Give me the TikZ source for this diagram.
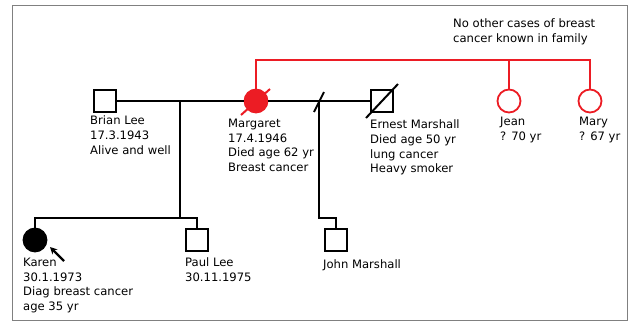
\documentclass[tikz,border=0pt]{standalone}
\usepackage{fontspec}
\setmainfont{DejaVu Sans}
\usetikzlibrary{arrows.meta}
\definecolor{pedred}{RGB}{236,28,36}
\begin{document}
\begin{tikzpicture}[x=1pt,y=-1pt,
  male/.style={draw,line width=1.8pt,minimum size=22pt,inner sep=0pt,fill=white},
  female/.style={draw,circle,line width=1.8pt,minimum size=23pt,inner sep=0pt,fill=white},
  txt/.style={anchor=north west,align=left,inner sep=0pt,font=\fontsize{11.6}{14.6}\selectfont,execute at begin node=\strut},
  link/.style={line width=2pt}]
  \useasboundingbox (0,0) rectangle (633,325);
  \draw[gray,line width=0.8pt] (12,5) rectangle (627,320);

  \node[male] (brian) at (105,101){};
  \node[female,draw=pedred,fill=pedred] (margaret) at (256,101){};
  \node[male] (ernest) at (382,101){};
  \node[female,draw=pedred] (jean) at (509,101){};
  \node[female,draw=pedred] (mary) at (590,101){};

  \node[female,fill=black] (karen) at (35,240){};
  \node[male] (paul) at (197,240){};
  \node[male] (john) at (336,240){};

  \coordinate (m1) at (180,101);
  \coordinate (s1) at (180,218);
  \coordinate (m2) at (319,101);
  \coordinate (s2) at (319,218);
  \coordinate (top) at (256,60);

  % marriages and children
  \draw[link](brian)--(margaret)--(ernest);
  \draw[link](m1)--(s1);
  \draw[link](karen)|-(s1)-|(paul);
  \draw[link](m2)--(s2)-|(john);
  \draw[link]([shift={(-5,11)}]m2)--([shift={(5,-9)}]m2);

  % sisters of margaret
  \draw[link,pedred](margaret)--(top)-|(mary);
  \draw[link,pedred](jean)--(jean|-top);

  % deceased
  \draw[link,pedred]([shift={(-15,14)}]margaret.center)--([shift={(14,-12)}]margaret.center);
  \draw[link]([shift={(-16,17)}]ernest.center)--([shift={(16,-17)}]ernest.center);

  % proband
  \coordinate (ptail) at (64,261);
  \coordinate (phead) at (50,247);
  \draw[line width=2.4pt,-{Stealth[length=7pt,width=7pt]}](ptail)--(phead);

  \node[txt] (tbrian) at (90,115.9){Brian Lee\\17.3.1943\\Alive and well};
  \node[txt] (tmargaret) at (228,118.9){Margaret\\17.4.1946\\Died age 62 yr\\Breast cancer};
  \node[txt] (ternest) at (370,119.9){Ernest Marshall\\Died age 50 yr\\lung cancer\\Heavy smoker};
  \node[txt] (tjean) at (500,116.9){Jean\\? 70 yr};
  \node[txt] (tmary) at (579,116.9){Mary\\? 67 yr};
  \node[txt] (tkaren) at (23,257.9){Karen\\30.1.1973\\Diag breast cancer\\age 35 yr};
  \node[txt] (tpaul) at (185,257.9){Paul Lee\\30.11.1975};
  \node[txt] (tjohn) at (323,257.9){John Marshall};
  \node[txt] (tnote) at (453,18.4){No other cases of breast\\cancer known in family};
\end{tikzpicture}
\end{document}
